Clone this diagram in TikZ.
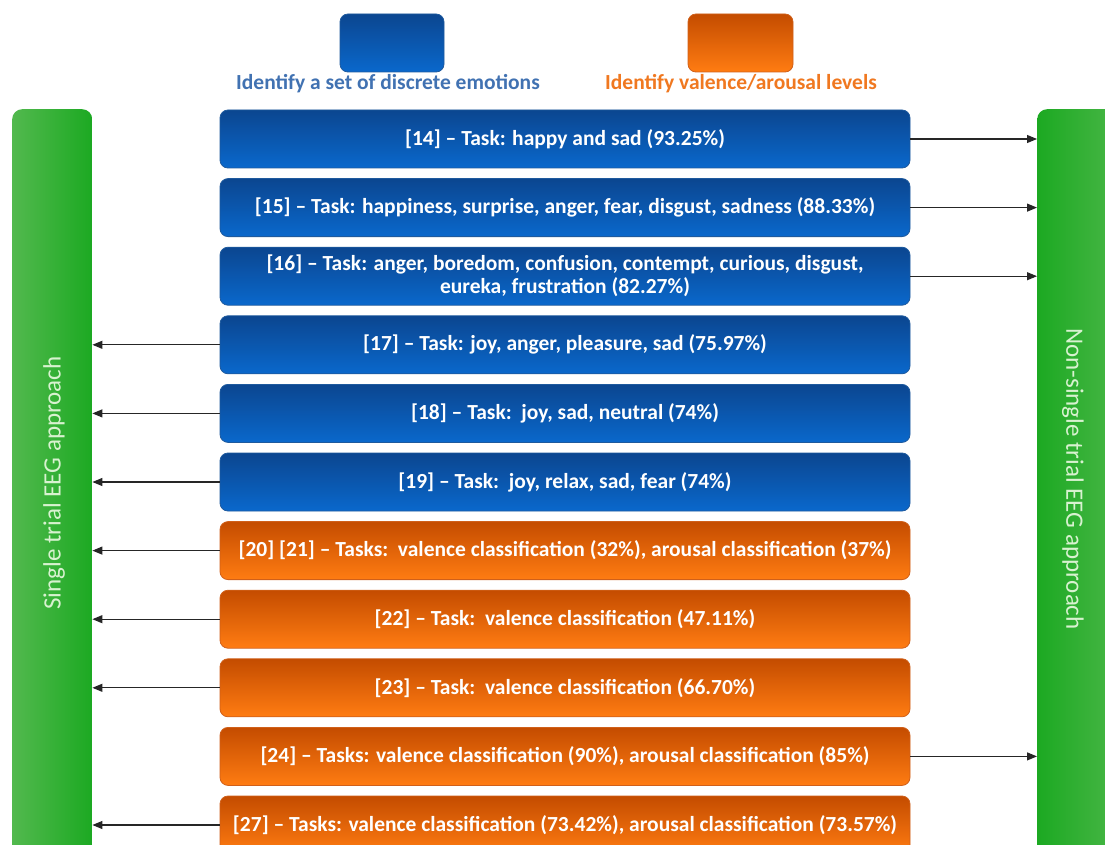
\documentclass[tikz,border=0pt]{standalone}
\usepackage{fontspec}
\setmainfont{Carlito}
\usetikzlibrary{arrows.meta}
\definecolor{bluetop}{HTML}{0B4690}
\definecolor{bluebot}{HTML}{0A68CC}
\definecolor{blueedge}{HTML}{1E5A9E}
\definecolor{orgtop}{HTML}{C44C00}
\definecolor{orgbot}{HTML}{FF7C12}
\definecolor{orgedge}{HTML}{D0601A}
\definecolor{grdark}{HTML}{1CA922}
\definecolor{grlight}{HTML}{52B94E}
\definecolor{legblue}{HTML}{4172B2}
\definecolor{legorg}{HTML}{F07820}
\definecolor{bartext}{HTML}{D8F2D0}
\tikzset{
  taskbox/.style={rounded corners=8pt, minimum width=690pt, minimum height=58pt,
    inner sep=0pt, text=white, align=center,
    font=\bfseries\fontsize{21.5}{23}\selectfont},
  bluebox/.style={taskbox, draw=blueedge, line width=0.8pt, top color=bluetop, bottom color=bluebot},
  orgbox/.style={taskbox, draw=orgedge, line width=0.8pt, top color=orgtop, bottom color=orgbot},
  legbluebox/.style={rounded corners=8pt, minimum width=104pt, minimum height=58pt, inner sep=0pt,
    draw=blueedge, line width=0.8pt, top color=bluetop, bottom color=bluebot},
  legorgbox/.style={rounded corners=8pt, minimum width=105pt, minimum height=58pt, inner sep=0pt,
    draw=orgedge, line width=0.8pt, top color=orgtop, bottom color=orgbot},
  legtext/.style={font=\bfseries\fontsize{21.5}{24}\selectfont, inner sep=0pt},
  sidebar/.style={rounded corners=10pt, inner sep=0pt, minimum height=800pt, anchor=north west},
  bartxt/.style={text=bartext, font=\fontsize{25}{28}\selectfont, inner sep=0pt},
  arr/.style={line width=1.1pt, draw=black!85, -{Triangle[length=10pt,width=8pt]}}
}
\begin{document}
\begin{tikzpicture}[x=1pt,y=-1pt]
\useasboundingbox (0,0) rectangle (1105,845);
\clip (0,0) rectangle (1105,845);
\fill[white] (0,0) rectangle (1105,845);
% legend
\node[legbluebox] (lb) at (392,43) {};
\node[legorgbox] (lo) at (740.5,43) {};
\node[legtext, text=legblue] (lbt) at (388,84) {Identify a set of discrete emotions};
\node[legtext, text=legorg] (lot) at (741,84) {Identify valence/arousal levels};
% side bars
\node[sidebar, minimum width=80pt, left color=grlight, right color=grdark] (lbar) at (12,109) {};
\node[sidebar, minimum width=100pt, left color=grdark, right color=grlight] (rbar) at (1037,109) {};
\node[bartxt, rotate=90] (lbartxt) at (54,483) {Single trial EEG approach};
\node[bartxt, rotate=-90] (rbartxt) at (1073,479) {Non-single trial EEG approach};
% task boxes
\node[bluebox] (b1) at (565,139) {[14] – Task: happy and sad (93.25\%)};
\node[bluebox] (b2) at (565,207.6) {[15] – Task: happiness, surprise, anger, fear, disgust, sadness (88.33\%)};
\node[bluebox] (b3) at (565,276.2) {[16] – Task: anger, boredom, confusion, contempt, curious, disgust,\\eureka, frustration (82.27\%)};
\node[bluebox] (b4) at (565,344.8) {[17] – Task: joy, anger, pleasure, sad (75.97\%)};
\node[bluebox] (b5) at (565,413.4) {[18] – Task:\ \ joy, sad, neutral (74\%)};
\node[bluebox] (b6) at (565,482) {[19] – Task:\ \ joy, relax, sad, fear (74\%)};
\node[orgbox] (b7) at (565,550.6) {[20] [21] – Tasks:\ \ valence classification (32\%), arousal classification (37\%)};
\node[orgbox] (b8) at (565,619.2) {[22] – Task:\ \ valence classification (47.11\%)};
\node[orgbox] (b9) at (565,687.8) {[23] – Task:\ \ valence classification (66.70\%)};
\node[orgbox] (b10) at (565,756.4) {[24] – Tasks: valence classification (90\%), arousal classification (85\%)};
\node[orgbox] (b11) at (565,825) {[27] – Tasks: valence classification (73.42\%), arousal classification (73.57\%)};
% arrows
\foreach \b in {b1,b2,b3,b10}
  \draw[arr] (\b.east) -- (\b.east -| rbar.west);
\foreach \b in {b4,b5,b6,b7,b8,b9,b11}
  \draw[arr] (\b.west) -- (\b.west -| lbar.east);
\end{tikzpicture}
\end{document}
